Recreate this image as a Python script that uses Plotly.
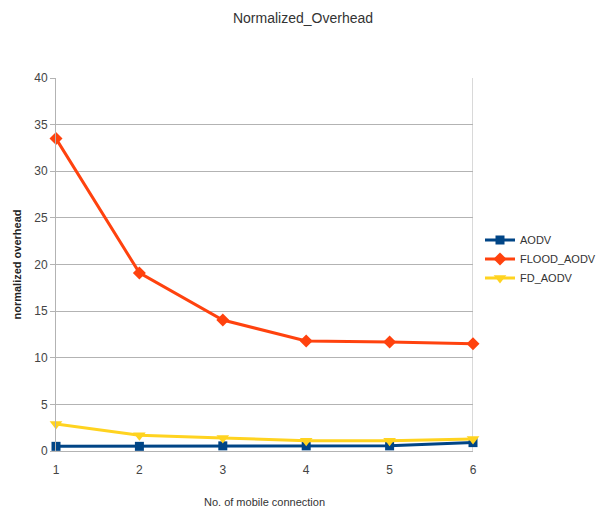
import plotly.graph_objects as go

connections = [1, 2, 3, 4, 5, 6]
aodv = [0.5, 0.5, 0.55, 0.55, 0.55, 0.9]
flood_aodv = [33.5, 19.1, 14.05, 11.8, 11.7, 11.5]
fd_aodv = [2.9, 1.7, 1.4, 1.1, 1.1, 1.3]

series = [
    ("AODV", aodv, "#004586", "square", 9),
    ("FLOOD_AODV", flood_aodv, "#ff420e", "diamond", 10),
    ("FD_AODV", fd_aodv, "#ffd320", "triangle-down", 11),
]

fig = go.Figure()
for name, vals, color, sym, size in series:
    fig.add_trace(go.Scatter(
        x=connections, y=vals, name=name, mode="lines+markers",
        line=dict(color=color, width=3),
        marker=dict(symbol=sym, size=size, color=color),
        cliponaxis=False,
    ))

fig.update_layout(
    width=600, height=508,
    margin=dict(l=56, r=127, t=78, b=57, autoexpand=False),
    paper_bgcolor="white", plot_bgcolor="white",
    font=dict(family="Liberation Sans, Arial, sans-serif", color="#444444", size=12),
    title=dict(text="Normalized_Overhead", x=0.505, xanchor="center", y=0.965,
               yanchor="middle", font=dict(size=14, color="#333333")),
    xaxis=dict(
        range=[1, 6], tickvals=connections, showgrid=False, automargin=False,
        showline=True, linecolor="#b3b3b3", mirror=False,
        ticks="", ticklen=0, zeroline=False, ticklabelstandoff=8,
        title=dict(text="No. of mobile connection", font=dict(size=11, color="#333333"), standoff=22),
        tickfont=dict(size=12, color="#444444"),
    ),
    yaxis=dict(
        range=[0, 40], dtick=5, showgrid=True, gridcolor="#b3b3b3", automargin=False,
        showline=True, linecolor="#b3b3b3", zeroline=False,
        ticks="outside", ticklen=5, tickcolor="#b3b3b3",
        title=dict(text="<b>normalized overhead</b>", font=dict(size=11, color="#222222"), standoff=10),
        tickfont=dict(size=12, color="#444444"),
    ),
    legend=dict(xref="container", x=0.80, y=0.515, xanchor="left", yanchor="middle",
                font=dict(size=11, color="#333333"), tracegroupgap=0, itemwidth=30),
    showlegend=True,
)

fig.add_shape(type="line", xref="x", yref="paper", x0=6, x1=6, y0=0, y1=1,
              line=dict(color="#b3b3b3", width=1), layer="below")

fig.write_html("out.html")
